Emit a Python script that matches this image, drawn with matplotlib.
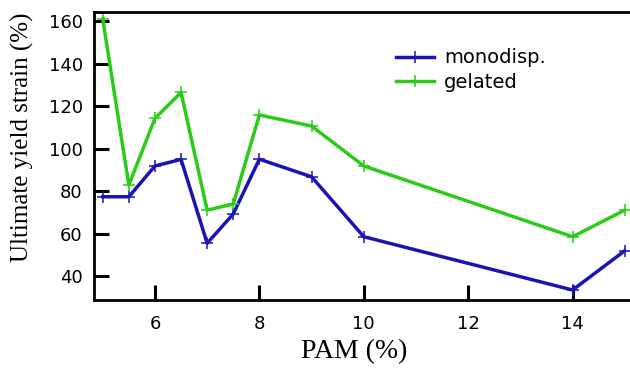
import numpy as np
import matplotlib.pyplot as plt

# data
pam = [5, 5.5, 6, 6.5, 7, 7.5, 8, 9, 10, 14, 15]
monodisp = [77.3, 77.3, 91.8, 94.9, 55.4, 69.2, 95, 86.7, 58.5, 33.4, 51.9]
gelated = [161, 82.8, 114.2, 126.4, 71, 73.9, 115.8, 110.6, 91.8, 58.5, 71]

xticks = [6, 8, 10, 12, 14]
yticks = [40, 60, 80, 100, 120, 140, 160]

fig = plt.figure(figsize=(6.3, 3.69), dpi=100)
ax = fig.add_axes([0.149, 0.187, 0.851, 0.78])

ax.plot(pam, monodisp, color='#1a14b4', lw=2.5, marker='+', ms=8, mew=1.1, label='monodisp.')
ax.plot(pam, gelated, color='#2acc18', lw=2.5, marker='+', ms=8, mew=1.1, label='gelated')

ax.set_xlim(4.83, 15.1)
ax.set_ylim(28.7, 164.2)
ax.set_xticks(xticks)
ax.set_yticks(yticks)

for s in ['left', 'bottom', 'top']:
    ax.spines[s].set_linewidth(2)
ax.spines['right'].set_visible(False)
ax.tick_params(direction='in', length=11, width=2.2, labelsize=13)
ax.tick_params(axis='x', pad=11)
ax.tick_params(axis='y', pad=8)

ax.set_xlabel('PAM (%)', family='Liberation Serif', fontsize=20, labelpad=0)
ax.xaxis.set_label_coords(0.485, -0.135)
ax.set_ylabel('Ultimate yield strain (%)', family='Liberation Serif', fontsize=18)
ax.yaxis.set_label_coords(-0.112, 0.565)

ax.legend(loc='upper left', bbox_to_anchor=(0.53, 0.935), frameon=False, fontsize=14,
          handlelength=2.0, labelspacing=0.3, handletextpad=0.5)

fig.savefig('out.png', dpi=100)
